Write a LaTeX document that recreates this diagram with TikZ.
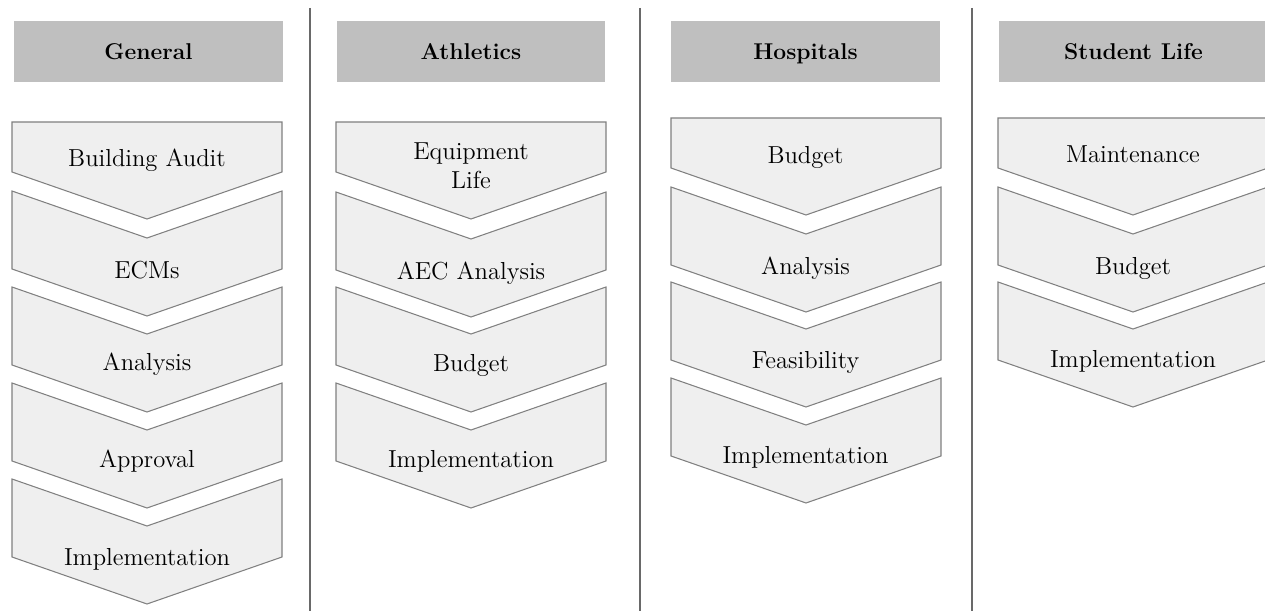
\documentclass[tikz,border=0pt]{standalone}
\usepackage{tikz}
\definecolor{headGray}{RGB}{191,191,191}
\definecolor{chevFill}{RGB}{239,239,239}
\definecolor{chevLine}{RGB}{128,128,128}
\definecolor{sepLine}{RGB}{105,105,105}

% chevron: left x, top y, notch depth, side length
\newcommand{\chevpath}[4]{%
  \draw[chevshape] (#1,#2) -- ++(135,#3) -- (#1+270,#2) -- ++(0,#4)
    -- (#1+135,#2+#4+47) -- (#1,#2+#4) -- cycle;}

\begin{document}
\begin{tikzpicture}[x=0.02cm, y=-0.02cm,
    chevshape/.style={fill=chevFill, draw=chevLine, line width=0.6pt},
    headbox/.style={fill=headGray, minimum width=5.38cm, minimum height=1.22cm,
      inner sep=0pt, text height=9pt, text depth=0pt,
      font=\fontsize{13}{15}\selectfont\bfseries},
    steptext/.style={font=\fontsize{14}{16.5}\selectfont, inner sep=0pt}]
  \useasboundingbox (0,0) rectangle (1265,611);
  \clip (0,0) rectangle (1265,611);

  % column separators
  \foreach \sx in {310,640,972}
    \draw[sepLine, line width=1pt] (\sx,8) -- (\sx,611);

  % headers
  \node[headbox] (general)   at (148.5,51.5) {General};
  \node[headbox] (athletics) at (471,51.5) {Athletics};
  \node[headbox] (hospitals) at (805.5,51.5) {Hospitals};
  \node[headbox] (student)   at (1133.5,51.5) {Student Life};

  % General
  \chevpath{12}{122}{0}{50}
  \foreach \t in {191,287,383,479} {\chevpath{12}{\t}{47}{78}}
  \node[steptext, anchor=base] (genA) at (147,167) {Building Audit};
  \node[steptext, anchor=base] (genB) at (147,279) {ECMs};
  \node[steptext, anchor=base] (genC) at (147,371) {Analysis};
  \node[steptext, anchor=base] (genD) at (147,467) {Approval};
  \node[steptext, anchor=base] (genE) at (147,565) {Implementation};

  % Athletics
  \chevpath{336}{122}{0}{50}
  \foreach \t in {192,287,383} {\chevpath{336}{\t}{47}{78}}
  \node[steptext, align=center, anchor=center] (athA) at (471,166) {Equipment\\Life};
  \node[steptext, anchor=base] (athB) at (471,280) {AEC Analysis};
  \node[steptext, anchor=base] (athC) at (471,372) {Budget};
  \node[steptext, anchor=base] (athD) at (471,467) {Implementation};

  % Hospitals
  \chevpath{671}{118}{0}{50}
  \foreach \t in {187,282,378} {\chevpath{671}{\t}{47}{78}}
  \node[steptext, anchor=base] (hosA) at (805.5,164) {Budget};
  \node[steptext, anchor=base] (hosB) at (805.5,275) {Analysis};
  \node[steptext, anchor=base] (hosC) at (805.5,368) {Feasibility};
  \node[steptext, anchor=base] (hosD) at (805.5,463) {Implementation};

  % Student Life
  \chevpath{998}{118}{0}{50}
  \foreach \t in {187,282} {\chevpath{998}{\t}{47}{78}}
  \node[steptext, anchor=base] (stuA) at (1133,163) {Maintenance};
  \node[steptext, anchor=base] (stuB) at (1133,275) {Budget};
  \node[steptext, anchor=base] (stuC) at (1133,367) {Implementation};
\end{tikzpicture}
\end{document}
